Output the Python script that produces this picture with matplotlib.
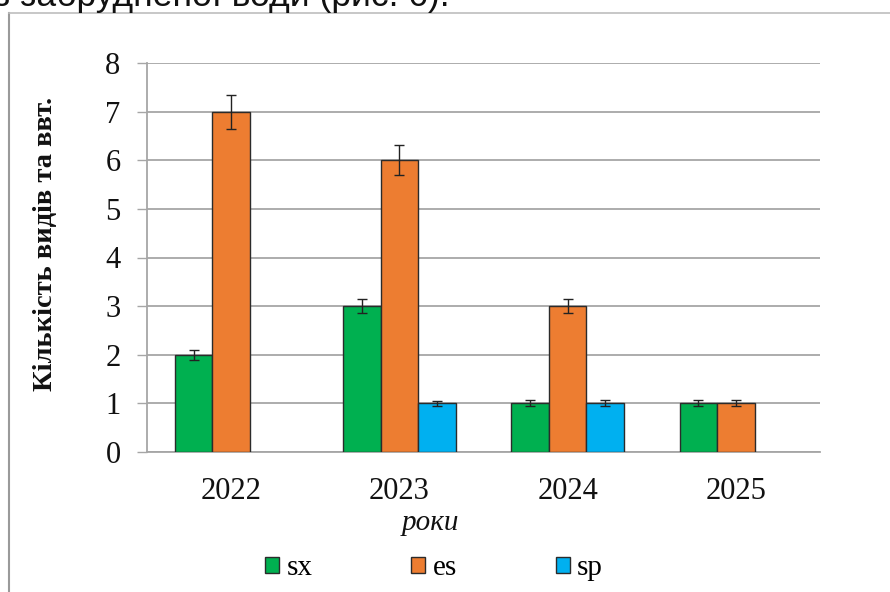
import matplotlib
matplotlib.use("Agg")
import matplotlib.pyplot as plt
import numpy as np
from matplotlib.lines import Line2D
from matplotlib.patches import Patch

# Data
years = ["2022", "2023", "2024", "2025"]
series_names = ["sx", "es", "sp"]
sx_values = [2, 3, 1, 1]
es_values = [7, 6, 3, 1]
sp_values = [0, 1, 1, 0]
sx_errors = [0.10, 0.14, 0.06, 0.06]
es_errors = [0.35, 0.31, 0.14, 0.06]
sp_errors = [0.0, 0.05, 0.06, 0.0]
y_ticks = [0, 1, 2, 3, 4, 5, 6, 7, 8]

colors = ["#00B050", "#ED7D31", "#00B0F0"]
serif = ["Liberation Serif", "DejaVu Serif"]

W, H = 890, 592
fig = plt.figure(figsize=(W / 100, H / 100), dpi=100)
fig.patch.set_facecolor("white")

# Axes placement in pixels: left 147, right 820, top 63, bottom 452
ax = fig.add_axes([147 / W, 1 - 452 / H, (820 - 147) / W, (452 - 63) / H])

x = np.arange(len(years))
bw = 0.223
values = [sx_values, es_values, sp_values]
errors = [sx_errors, es_errors, sp_errors]
for i, (vals, errs, col) in enumerate(zip(values, errors, colors)):
    pos = x + (i - 1) * bw
    for p, v, e in zip(pos, vals, errs):
        if v <= 0:
            continue
        ax.bar(p, v, width=bw, color=col, edgecolor="#2b2b2b", linewidth=1.0, zorder=3)
        ax.errorbar(p, v, yerr=e, fmt="none", ecolor="#222222", elinewidth=1.0,
                    capsize=3.3, capthick=1.0, zorder=4)

ax.set_xlim(-0.5, len(years) - 0.5)
ax.set_ylim(0, 8)
ax.set_yticks(y_ticks)
ax.set_xticks(x)
ax.set_xticklabels(years)
ax.grid(axis="y", color="#A6A6A6", linewidth=1.3, zorder=0)
ax.set_axisbelow(True)
for side in ["top", "right"]:
    ax.spines[side].set_visible(False)
for side in ["left", "bottom"]:
    ax.spines[side].set_color("#A6A6A6")
    ax.spines[side].set_linewidth(1.3)

ax.tick_params(axis="y", length=7, width=1.0, color="#A6A6A6", pad=12)
ax.tick_params(axis="x", length=0, pad=18)
for lab in ax.get_xticklabels() + ax.get_yticklabels():
    lab.set_fontfamily(serif)
    lab.set_fontsize(22)
    lab.set_color("#111111")

ax.set_ylabel("Кількість видів та ввт.", fontfamily=serif, fontsize=20.5,
              fontweight="bold", color="#111111")
ax.yaxis.set_label_coords(-0.132, 0.536)

fig.text(430 / W, 1 - 523 / H, "роки", ha="center", va="center",
         fontfamily=serif, fontsize=21, fontstyle="italic", color="#111111")

handles = [Patch(facecolor=c, edgecolor="#2b2b2b", linewidth=1.0) for c in colors]
fig.legend(handles, series_names, loc="center", bbox_to_anchor=(434 / W, 1 - 568 / H),
           ncol=3, frameon=False, prop={"family": serif, "size": 21},
           handlelength=0.48, handleheight=0.48, handletextpad=0.24,
           columnspacing=3.4)

# Surrounding chart frame (left and top edges)
fig.add_artist(Line2D([8.5 / W, 8.5 / W], [0, 1 - 13 / H], color="#9a9a9a",
                      linewidth=1.5, transform=fig.transFigure))
fig.add_artist(Line2D([8.5 / W, 1], [1 - 13 / H, 1 - 13 / H], color="#bdbdbd",
                      linewidth=1.2, transform=fig.transFigure))

# Preceding line of document text, mostly clipped by the top edge
fig.text(-6 / W, 1 - 6 / H, "з забрудненої води (рис. 6).", ha="left", va="baseline",
         fontfamily=["Liberation Sans", "DejaVu Sans"], fontsize=25.5, color="#111111")

fig.savefig("out.png", dpi=100, facecolor="white")
